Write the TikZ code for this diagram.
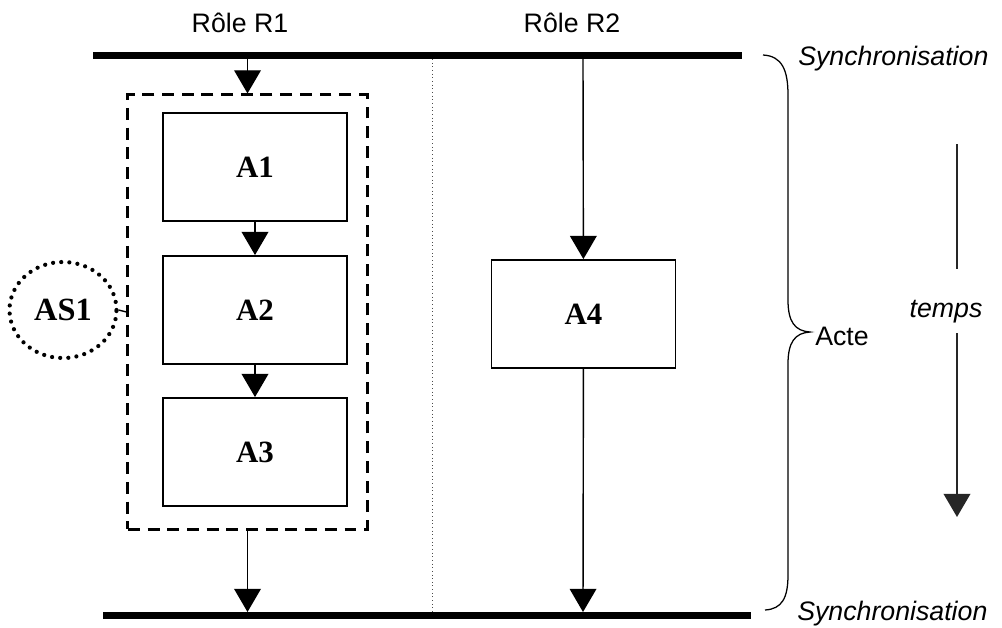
\documentclass[tikz,border=0pt]{standalone}
\usepackage{fontspec}
\setmainfont{Liberation Serif}
\setsansfont{Liberation Sans}
\usetikzlibrary{arrows.meta,shapes.geometric}
\tikzset{
  activite/.style={draw,line width=1.3pt,minimum width=4.6cm,minimum height=2.7cm,inner sep=0pt,font=\fontsize{22}{26}\selectfont\bfseries},
  fleche/.style={-{Triangle[length=16.5pt,width=19pt]},line width=1pt},
  barre/.style={line width=5pt},
  etiquette/.style={inner sep=0pt,font=\fontsize{19}{23}\selectfont\sffamily},
}
\begin{document}
\begin{tikzpicture}[x=0.025cm,y=-0.025cm]
\useasboundingbox (0,0) rectangle (1002,627);
% barres de synchronisation
\coordinate (H1) at (93,55.5);
\coordinate (H2) at (742,55.5);
\coordinate (B1) at (103,615.5);
\coordinate (B2) at (751,615.5);
\draw[barre] (H1) -- (H2);
\draw[barre] (B1) -- (B2);
\coordinate (HR1) at (247.5,59);
\coordinate (HR2) at (583,59);
\coordinate (BR1) at (247.5,612);
\coordinate (BR2) at (583,612);
% separation des roles
\draw[dotted,line width=0.6pt,black!70] (432,59) -- (432,612);
\node[etiquette,anchor=base] (R1) at (240,32) {Rôle R1};
\node[etiquette,anchor=base] (R2) at (572,32) {Rôle R2};
% activites
\node[draw,dash pattern=on 8.5pt off 5.5pt,line width=2.1pt,minimum width=5.975cm,minimum height=10.85cm,inner sep=0pt] (G) at (247.5,312) {};
\node[activite] (A1) at (255,167) {A1};
\node[activite] (A2) at (255,310) {A2};
\node[activite] (A3) at (255,452) {A3};
\node[activite] (A4) at (583.5,314) {A4};
\node[ellipse,draw,line width=3pt,dash pattern=on 0pt off 5.8pt,line cap=round,minimum width=2.675cm,minimum height=2.4cm,inner sep=0pt,font=\fontsize{23}{26}\selectfont\bfseries] (AS1) at (63,310) {AS1};
\draw[line width=1pt] (AS1.east) -- (G.west);
\draw[fleche] (HR1) -- (G.north);
\draw[fleche] (A1) -- (A2);
\draw[fleche] (A2) -- (A3);
\draw[fleche] (G.south) -- (BR1);
\draw[fleche] (HR2) -- (A4);
\draw[fleche] (A4) -- (BR2);
% acte
\draw[line width=0.9pt] (763,55) .. controls (782,56) and (788,70) .. (788,95) -- (788,300) .. controls (788,322) and (795,331) .. (810,332) .. controls (795,333) and (788,342) .. (788,364) -- (788,575) .. controls (788,598) and (782,609) .. (765,610);
\node[etiquette,anchor=base west,font=\fontsize{19}{23}\selectfont\sffamily\itshape] (S1) at (798,65) {Synchronisation};
\node[etiquette,anchor=base west,font=\fontsize{19}{23}\selectfont\sffamily\itshape] (S2) at (797,620) {Synchronisation};
\node[etiquette,anchor=base west] (acte) at (815,345) {Acte};
% temps
\node[etiquette,anchor=base,font=\fontsize{19}{23}\selectfont\sffamily\itshape] (T) at (946,317) {temps};
\draw[line width=1.2pt,black!85] (957,144) -- (957,269);
\draw[fleche,line width=1.2pt,black!85] (957,333) -- (957,517);
\end{tikzpicture}
\end{document}
